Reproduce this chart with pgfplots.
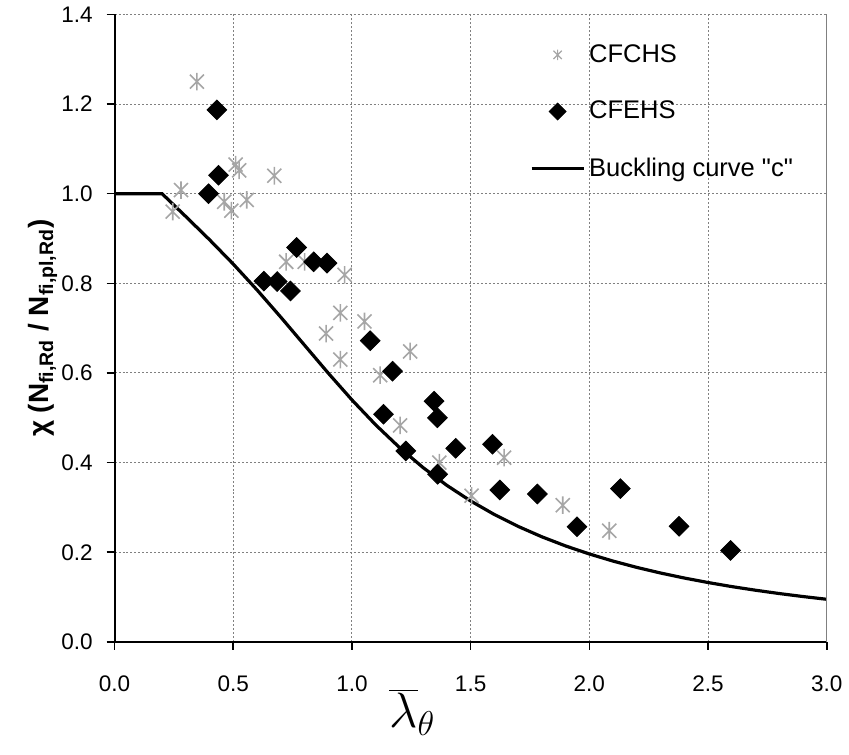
\documentclass[border=0pt]{standalone}
\usepackage{pgfplots}
\pgfplotsset{compat=1.18}
\usepackage{fontspec}
\setmainfont{Liberation Sans}[Ligatures=TeXOff]
\definecolor{astgray}{RGB}{166,166,166}
\definecolor{gridgray}{RGB}{128,128,128}
\pgfdeclareplotmark{xast}{%
  \pgfpathmoveto{\pgfqpoint{0pt}{\pgfplotmarksize}}%
  \pgfpathlineto{\pgfqpoint{0pt}{-\pgfplotmarksize}}%
  \pgfpathmoveto{\pgfqpoint{-0.8\pgfplotmarksize}{-0.8\pgfplotmarksize}}%
  \pgfpathlineto{\pgfqpoint{0.8\pgfplotmarksize}{0.8\pgfplotmarksize}}%
  \pgfpathmoveto{\pgfqpoint{-0.8\pgfplotmarksize}{0.8\pgfplotmarksize}}%
  \pgfpathlineto{\pgfqpoint{0.8\pgfplotmarksize}{-0.8\pgfplotmarksize}}%
  \pgfusepathqstroke}
\begin{document}
\begin{tikzpicture}
\begin{axis}[
  scale only axis,
  width=357.5pt, height=315pt,
  xmin=0, xmax=3, ymin=0, ymax=1.4,
  xtick={0,0.5,...,3.0},
  ytick={0,0.2,...,1.4},
  axis x line*=bottom, axis y line*=left,
  every non boxed x axis/.append style={x axis line style={-}},
  every non boxed y axis/.append style={y axis line style={-}},
  axis line style={line width=1pt, black},
  tick align=outside, tick pos=left,
  major tick length=4pt,
  tick style={black, line width=0.8pt},
  grid=major,
  major grid style={gridgray, line width=0.5pt, dash pattern=on 1pt off 1pt},
  /pgf/number format/.cd, fixed, fixed zerofill, precision=1, assume math mode=true,
  /pgfplots/.cd,
  ticklabel style={font=\fontsize{11.3}{13}\selectfont},
  xticklabel style={yshift=-9.5pt},
  yticklabel style={xshift=-3.5pt},
  every axis x label/.style={at={(axis description cs:0.418,0)}, anchor=base, yshift=-43pt},
  xlabel={\fontsize{24}{27}\selectfont $\overline{\lambda}_{\theta}$},
  every axis y label/.style={at={([xshift=-36pt]axis description cs:0,0.5)}, rotate=90, anchor=center},
  ylabel={\fontsize{14}{16}\selectfont\bfseries χ (N\textsubscript{fi,Rd} / N\textsubscript{fi,pl,Rd})},
  legend style={draw=none, fill=none, at={(rel axis cs:0.583,0.959)}, anchor=north west,
    font=\fontsize{12.8}{15}\selectfont, row sep=14pt, inner sep=0pt},
  legend cell align=left,
  legend image code/.code={\draw[mark repeat=2,mark phase=2,#1] plot coordinates {(0pt,0pt) (13pt,0pt) (26pt,0pt)};},
  extra description/.code={
    \draw[gridgray, line width=0.6pt] (rel axis cs:1,0) -- (rel axis cs:1,1);
    \path (rel axis cs:0,0) ++(-57.5pt,-56.35pt) rectangle ++(424.5pt,378pt);
  },
]
% Buckling curve "c"
\addplot[black, line width=1.6pt, forget plot] coordinates {
(0.0,1.0) (0.2,1.0) (0.3,0.9491) (0.4,0.8973) (0.5,0.8430) (0.6,0.7854)
(0.7,0.7247) (0.8,0.6622) (0.9,0.5998) (1.0,0.5399) (1.1,0.4842) (1.2,0.4338)
(1.3,0.3888) (1.4,0.3492) (1.5,0.3145) (1.6,0.2842) (1.7,0.2577) (1.8,0.2345)
(1.9,0.2141) (2.0,0.1962) (2.1,0.1803) (2.2,0.1662) (2.3,0.1537) (2.4,0.1425)
(2.5,0.1325) (2.6,0.1234) (2.7,0.1153) (2.8,0.1079) (2.9,0.1012) (3.0,0.0951)
};
% CFCHS
\addplot[only marks, mark=xast, color=astgray, mark size=4.4pt, mark options={line width=0.8pt}, forget plot] coordinates {
(0.347,1.250) (0.510,1.065) (0.525,1.052) (0.673,1.040) (0.280,1.008)
(0.245,0.960) (0.462,0.982) (0.492,0.962) (0.557,0.986) (0.723,0.848)
(0.801,0.848) (0.969,0.819) (0.951,0.734) (0.891,0.688) (1.053,0.715)
(0.951,0.630) (1.245,0.648) (1.119,0.595) (1.203,0.483) (1.368,0.400)
(1.641,0.411) (1.504,0.326) (1.888,0.305) (2.084,0.248)
};
% CFEHS
\addplot[only marks, mark=square*, color=black, mark size=3.5pt, mark options={rotate=45, fill=black}, forget plot] coordinates {
(0.431,1.187) (0.438,1.041) (0.396,1.000) (0.767,0.880) (0.839,0.848)
(0.895,0.845) (0.629,0.805) (0.685,0.804) (0.741,0.783) (1.077,0.672)
(1.171,0.604) (1.133,0.508) (1.346,0.537) (1.360,0.500) (1.227,0.426)
(1.437,0.432) (1.592,0.441) (1.361,0.374) (1.623,0.339) (1.781,0.330)
(1.948,0.257) (2.131,0.342) (2.378,0.258) (2.595,0.204)
};
\addlegendimage{only marks, mark=xast, color=astgray, mark size=2.6pt, mark options={line width=0.6pt}}
\addlegendentry{CFCHS}
\addlegendimage{only marks, mark=square*, color=black, mark size=3pt, mark options={rotate=45, fill=black}}
\addlegendentry{CFEHS}
\addlegendimage{black, line width=1.6pt}
\addlegendentry{Buckling curve "c"}
\end{axis}
\end{tikzpicture}
\end{document}
